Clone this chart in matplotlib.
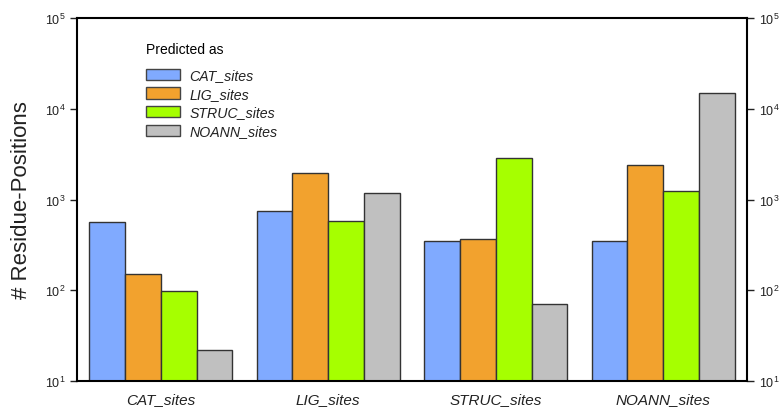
import numpy as np
import matplotlib.pyplot as plt
from matplotlib.patches import Patch

plt.rcParams['font.family'] = ['Liberation Sans', 'DejaVu Sans']
plt.rcParams['mathtext.fontset'] = 'custom'
plt.rcParams['mathtext.rm'] = 'Liberation Sans'

# true class of the residue positions (x groups)
groups = ['CAT_sites', 'LIG_sites', 'STRUC_sites', 'NOANN_sites']
# predicted class (bars within a group)
predicted = ['CAT_sites', 'LIG_sites', 'STRUC_sites', 'NOANN_sites']

cat_pred = [565, 747, 349, 347]
lig_pred = [151, 1945, 367, 2400]
struc_pred = [97, 575, 2890, 1230]
noann_pred = [22, 1189, 70.5, 14900]

colors = ['#80AAFF', '#F2A22E', '#A6FF00', '#C0C0C0']

fig = plt.figure(figsize=(7.81, 4.10), dpi=100)
ax = fig.add_axes([77 / 781, 1 - 382 / 410, 670 / 781, 363 / 410])

x = np.arange(len(groups))
w = 0.2135
series = [cat_pred, lig_pred, struc_pred, noann_pred]
for i, vals in enumerate(series):
    ax.bar(x + (i - 1.5) * w, vals, width=w, color=colors[i],
           edgecolor='#333333', linewidth=1.0, zorder=2)

ax.set_yscale('log')
ax.set_ylim(10, 1e5)
ax.set_xlim(-0.5, 3.5)
ax.minorticks_off()
ax.set_yticks([1e1, 1e2, 1e3, 1e4, 1e5])

ax.set_xticks(x)
ax.set_xticklabels(groups, fontsize=11, style='italic', color='#222222')
ax.tick_params(axis='x', length=0, pad=8)
ax.tick_params(axis='y', which='major', direction='out', length=5, width=1,
               labelsize=9, right=True, labelright=True, colors='#222222')
ax.tick_params(axis='y', which='minor', length=0)

for s in ax.spines.values():
    s.set_linewidth(1.5)
    s.set_color('black')

ax.set_ylabel('# Residue-Positions', fontsize=16, labelpad=9, color='#222222')

handles = [Patch(facecolor=c, edgecolor='#444444', linewidth=1.0) for c in colors]
leg = ax.legend(handles, predicted, title='Predicted as', loc='upper left',
                bbox_to_anchor=(0.084, 0.97), frameon=False,
                prop={'style': 'italic', 'size': 10.2},
                title_fontsize=10, handlelength=2.4, handleheight=0.85,
                labelspacing=0.33, handletextpad=0.65, alignment='left')
leg._legend_box.sep = 9
for t in leg.get_texts():
    t.set_color('#222222')

fig.savefig('out.png', dpi=100)
